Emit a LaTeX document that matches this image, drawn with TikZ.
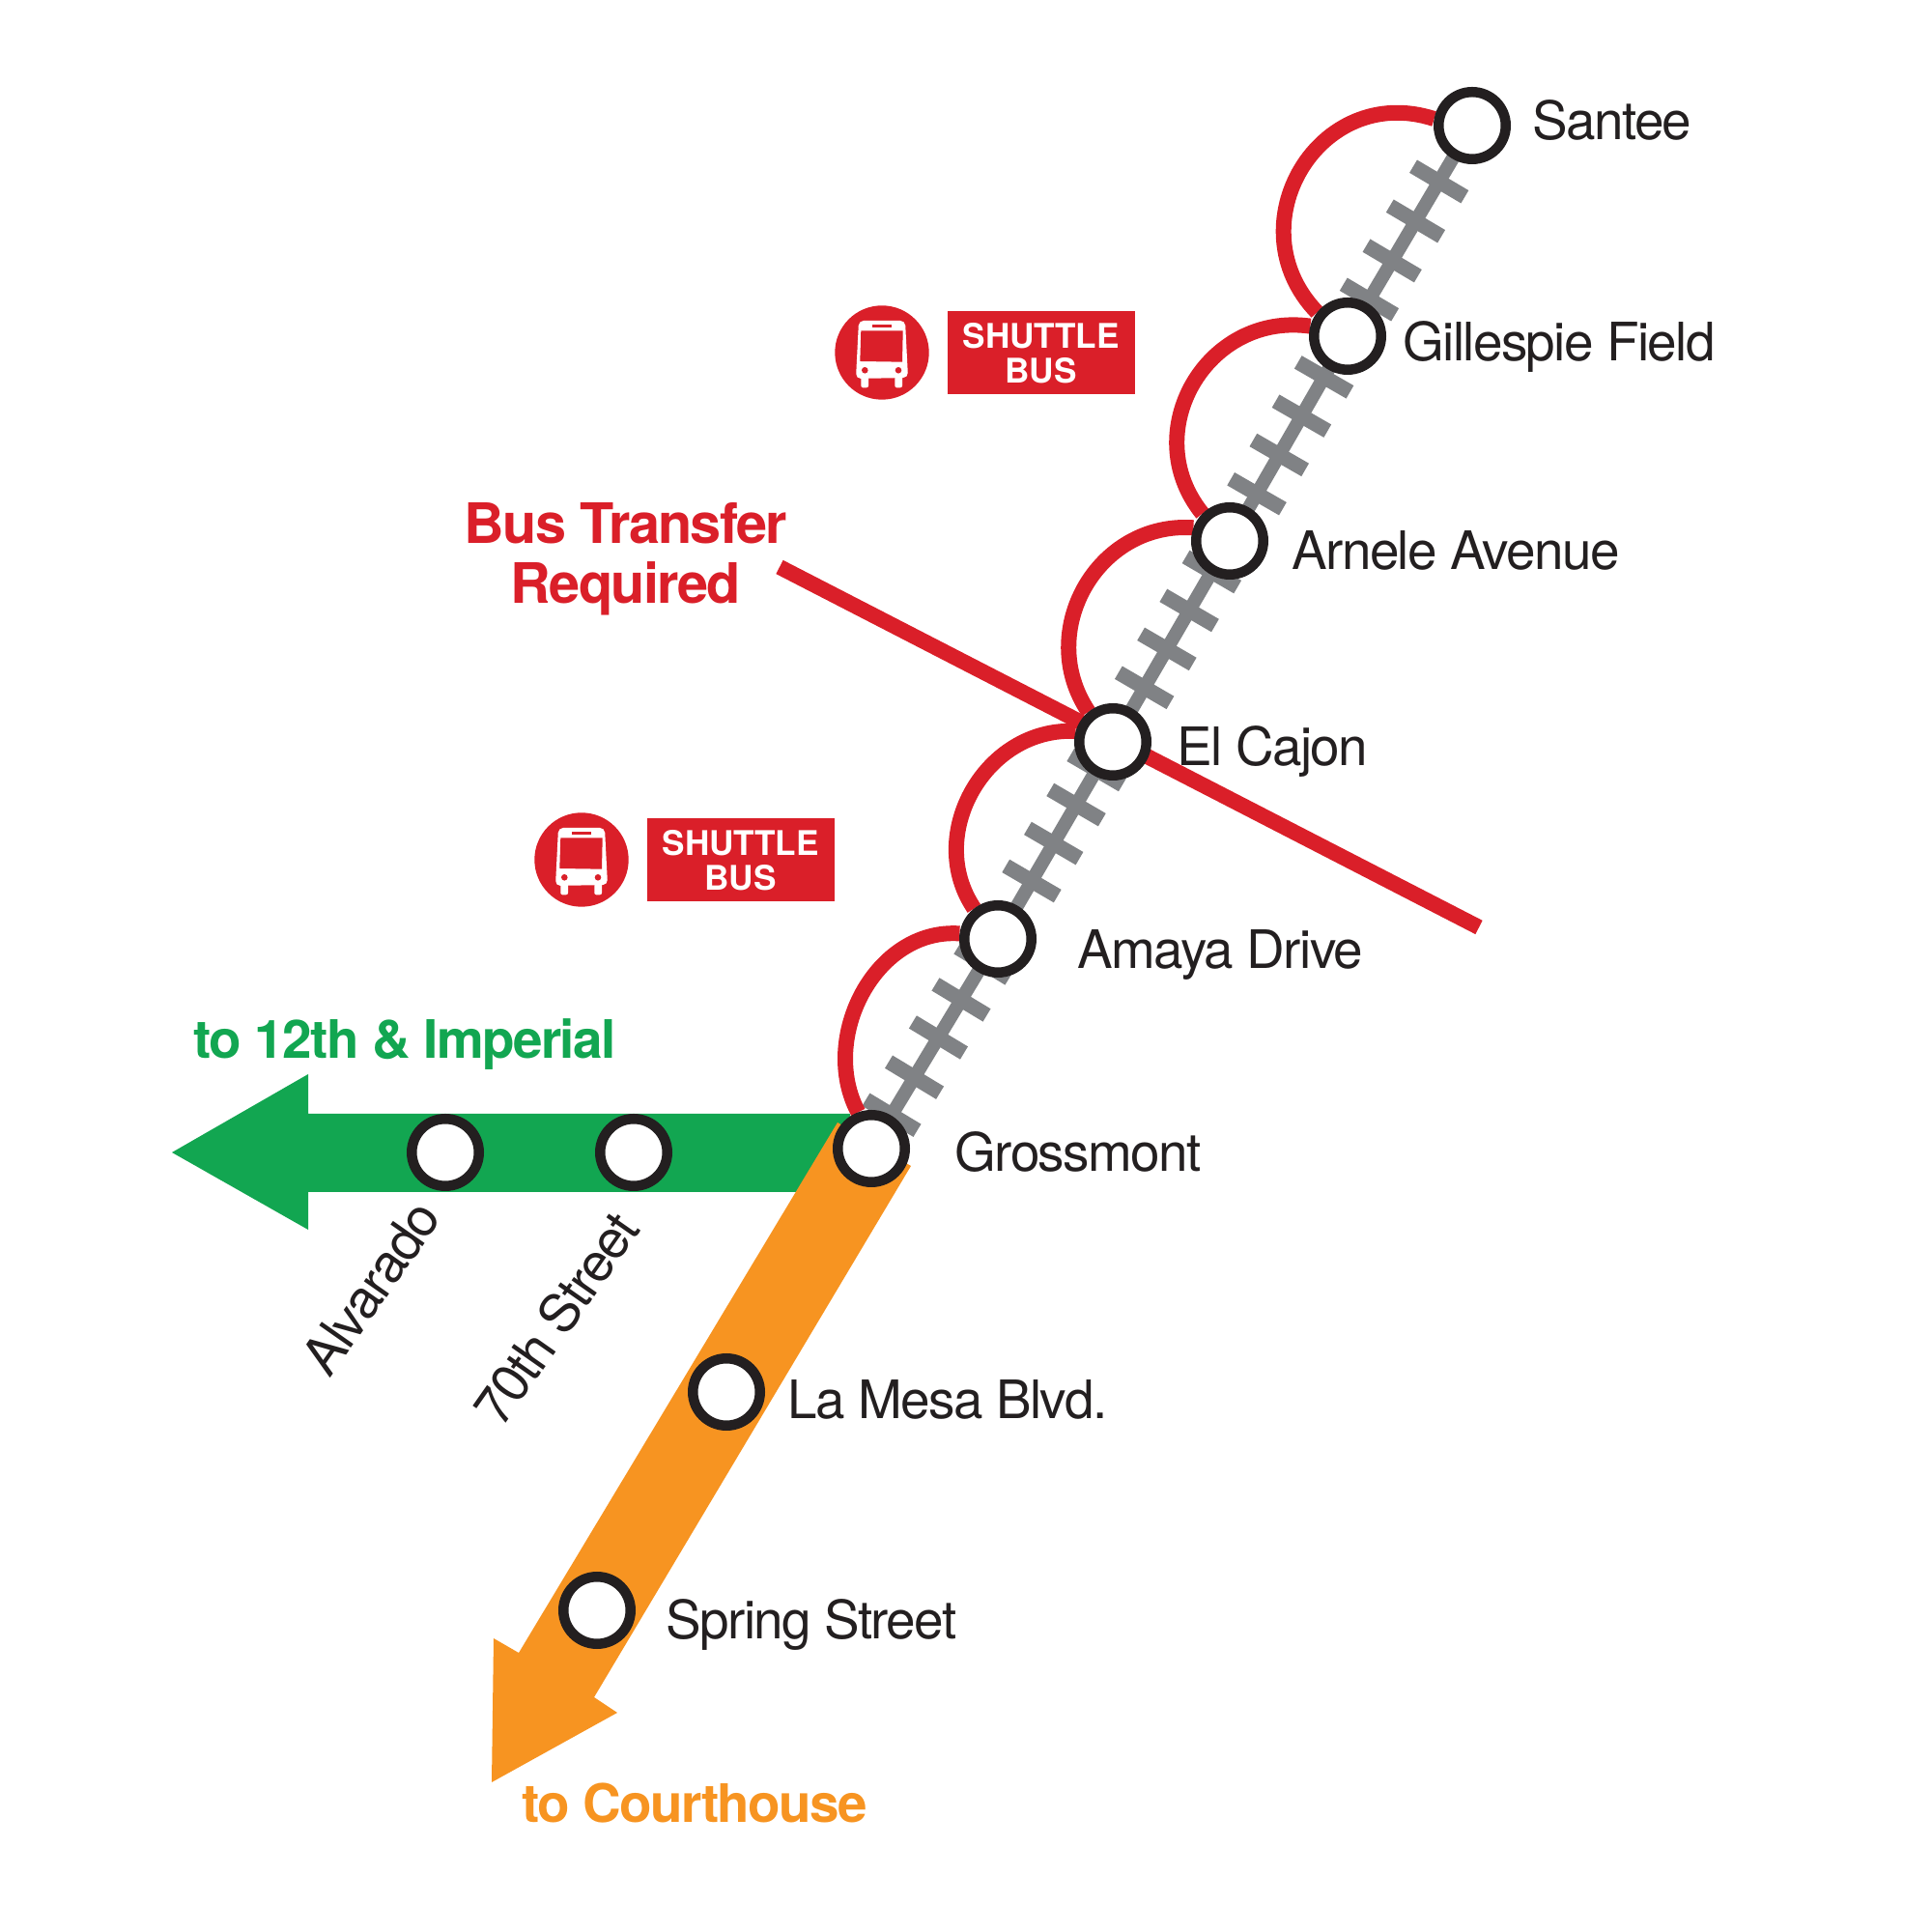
\documentclass[tikz,border=0pt]{standalone}
\usepackage{fontspec}
\setmainfont[LetterSpace=-3]{TeX Gyre Heros}
\newfontfamily\signfont{TeX Gyre Heros}
\usetikzlibrary{calc, backgrounds}
\definecolor{lineRed}{HTML}{DA1F29}
\definecolor{lineGreen}{HTML}{12A651}
\definecolor{lineOrange}{HTML}{F79421}
\definecolor{lineGray}{HTML}{808285}
\definecolor{inkBlack}{HTML}{231F20}
\tikzset{
    station/.style={circle, draw=inkBlack, fill=white, line width=0.105cm, minimum size=0.695cm, inner sep=0pt},
    stationname/.style={anchor=base west, inner sep=0pt, text=inkBlack, font=\fontsize{15.6}{15.6}\selectfont},
    linename/.style={anchor=base west, inner sep=0pt, font=\bfseries\fontsize{15.6}{15.6}\selectfont},
    busline/.style={draw=lineRed, line width=0.16cm},
    signbox/.style={fill=lineRed, text=white, align=center, inner sep=0pt, minimum width=1.94cm, minimum height=0.86cm, anchor=west, font=\signfont\bfseries\fontsize{10}{10.2}\selectfont}
}
\begin{document}
\begin{tikzpicture}
    \useasboundingbox (0,0) rectangle (20,20);

    % Coordonnees des stations
    \node[station] (santee) at (15.24,18.70) {};
    \node[station] (gillespie) at (13.95,16.52) {};
    \node[station] (arnele) at (12.73,14.40) {};
    \node[station] (elcajon) at (11.52,12.32) {};
    \node[station] (amaya) at (10.33,10.28) {};
    \node[station] (grossmont) at (9.02,8.11) {};
    \node[station] (seventieth) at (6.56,8.07) {};
    \node[station] (alvarado) at (4.61,8.07) {};
    \node[station] (lamesa) at (7.52,5.59) {};
    \node[station] (spring) at (6.18,3.33) {};

    \begin{scope}[on background layer]
        % Fleche verte
        \fill[lineGreen] (1.78,8.07) -- (3.19,8.88) -- (3.19,8.47) -- (8.80,8.47) -- (8.80,7.66) -- (3.19,7.66) -- (3.19,7.27) -- cycle;

        % Fleche orange
        \fill[lineOrange] (8.67,8.38) -- (9.43,7.93) -- (6.15,2.43) -- (6.39,2.27) -- (5.09,1.55) -- (5.11,3.04) -- (5.37,2.89) -- cycle;

        % Voie ferree
        \draw[lineGray, line width=0.14cm] (santee.center) -- (gillespie.center) -- (arnele.center) -- (elcajon.center) -- (amaya.center) -- (grossmont.center);
        \foreach \a/\b/\ties in {santee/gillespie/{0.266, 0.454, 0.642, 0.826},
                                 gillespie/arnele/{0.20, 0.39, 0.58, 0.77},
                                 arnele/elcajon/{0.154, 0.346, 0.538, 0.73},
                                 elcajon/amaya/{0.142, 0.319, 0.515, 0.706},
                                 amaya/grossmont/{0.115, 0.29, 0.47, 0.66, 0.84}} {
            \foreach \t in \ties {
                \draw[lineGray, line width=0.155cm]
                    ($(\a.center)!\t!(\b.center)!0.31cm!90:(\b.center)$) --
                    ($(\a.center)!\t!(\b.center)!0.31cm!-90:(\b.center)$);
            }
        }

        % Navettes entre stations
        \draw[busline] (santee.170) to[out=162, in=134, looseness=1.364] (gillespie.142);
        \draw[busline] (gillespie.165) to[out=172, in=129, looseness=1.236] (arnele.135);
        \draw[busline] (arnele.160) to[out=176, in=124, looseness=1.166] (elcajon.129);
        \draw[busline] (elcajon.164) to[out=177, in=124, looseness=1.12] (amaya.128);
        \draw[busline] (amaya.172) to[out=176, in=118, looseness=1.05] (grossmont.110);

        % Ligne de correspondance
        \coordinate (transferstart) at (8.07,14.13);
        \coordinate (transferend) at (15.31,10.40);
        \draw[busline] (transferstart) -- (transferend);
    \end{scope}
    \node[align=center, inner sep=0pt, text=lineRed, font=\bfseries\fontsize{16.4}{17.8}\selectfont] (transfer) at (6.48,14.21) {Bus Transfer\\Required};

    % Noms des stations
    \node[stationname] (santeename) at (15.86,18.55) {Santee};
    \node[stationname] (gillespiename) at (14.52,16.26) {Gillespie Field};
    \node[stationname] (arnelename) at (13.37,14.10) {Arnele Avenue};
    \node[stationname] (elcajonname) at (12.18,12.07) {El Cajon};
    \node[stationname] (amayaname) at (11.15,9.97) {Amaya Drive};
    \node[stationname] (grossmontname) at (9.88,7.87) {Grossmont};
    \node[stationname] (lamesaname) at (8.15,5.31) {La Mesa Blvd.};
    \node[stationname] (springname) at (6.89,3.03) {Spring Street};
    \node[stationname, rotate=55] (alvaradoname) at (3.41,5.72) {Alvarado};
    \node[stationname, rotate=55] (seventiethname) at (5.19,5.20) {70th Street};

    % Directions
    \node[linename, text=lineGreen] (imperial) at (2.00,9.04) {to 12th \& Imperial};
    \node[linename, text=lineOrange] (courthouse) at (5.40,1.13) {to Courthouse};

    % Panneaux navette
    \foreach \n/\x/\y in {upper/9.13/16.35, lower/6.02/11.10} {
        \fill[lineRed] (\x,\y) circle (0.487cm);
        \node[signbox] (shuttle\n) at ($(\x,\y)+(0.67,-0.005)$) {\raisebox{-1pt}{SHUTTLE}\\\raisebox{-1pt}{BUS}};
        \begin{scope}[shift={(\x,\y)}]
            \fill[white, rounded corners=0.05cm] (-0.24,0.33) -- (0.24,0.33) -- (0.27,-0.26) -- (-0.27,-0.27) -- cycle;
            \fill[white, rounded corners=0.02cm] (-0.217,-0.2) rectangle (-0.14,-0.363);
            \fill[white, rounded corners=0.02cm] (0.133,-0.2) rectangle (0.21,-0.363);
            \fill[lineRed] (-0.217,0.227) -- (0.217,0.227) -- (0.21,-0.097) -- (-0.227,-0.09) -- cycle;
            \fill[lineRed] (-0.1,0.26) rectangle (0.1,0.293);
            \fill[lineRed] (-0.177,-0.183) circle (0.033);
            \fill[lineRed] (0.17,-0.183) circle (0.033);
        \end{scope}
    }
\end{tikzpicture}
\end{document}
